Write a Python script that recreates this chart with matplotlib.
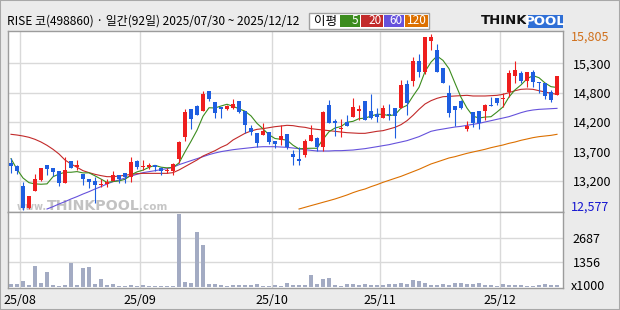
import matplotlib
matplotlib.use('Agg')
import matplotlib.pyplot as plt
from matplotlib.patches import Rectangle
import numpy as np

plt.rcParams['font.family'] = ['Noto Sans CJK KR', 'DejaVu Sans']

# ---- data (price in KRW, volume in x1000) ----
title = 'RISE 코(498860) · 일간(92일) 2025/07/30 ~ 2025/12/12'

opens = [13445, 13384, 13017, 12620, 12932, 13127, 13396, 13347, 13286, 13078,
         13469, 13372, 13237, 13152, 13103, 13029, 13054, 13115, 13225, 13249,
         13176, 13469, 13360, 13360, 13396, 13347, 13286, 13298, 13518, 13910,
         14423, 14484, 14386, 14753, 14558, 14472, 14435, 14448, 14570, 14399,
         14081, 13995, 13958, 14007, 13836, 13861, 13971, 13604, 13518, 13592,
         13849, 13897, 13738, 14496, 14203, 14056, 14191, 14289, 14399, 14570,
         14386, 14337, 14264, 14337, 14448, 14448, 14888, 14949, 15303, 15108,
         15682, 15511, 15181, 14717, 14484, 14570, 14056, 14374, 14386, 14386,
         14509, 14631, 14606, 14741, 15034, 15096, 14937, 15108, 14924, 14912,
         14741, 14692]
highs = [13537, 13408, 13090, 12834, 13237, 13347, 13396, 13347, 13286, 13555,
         13469, 13494, 13237, 13152, 13188, 13152, 13152, 13286, 13225, 13249,
         13555, 13494, 13494, 13445, 13396, 13360, 13347, 13445, 13849, 14435,
         14423, 14496, 14753, 14753, 14558, 14472, 14509, 14606, 14570, 14399,
         14142, 13995, 14166, 14007, 13836, 14142, 13971, 13677, 13726, 13885,
         14130, 13910, 14399, 14594, 14240, 14240, 14325, 14631, 14496, 14570,
         14704, 14448, 14509, 14521, 14448, 14961, 14961, 15389, 15438, 15744,
         15805, 15621, 15181, 14875, 14484, 14594, 14215, 14374, 14386, 14521,
         14643, 14631, 14717, 15144, 15303, 15120, 15108, 15144, 14924, 14912,
         14778, 15034]
lows = [13262, 13237, 12577, 12590, 12932, 13115, 13225, 13200, 13017, 13078,
        13347, 13311, 13042, 12980, 12711, 13005, 12993, 13103, 13066, 13078,
        13090, 13335, 13311, 13335, 13286, 13213, 13249, 13225, 13433, 13849,
        14069, 14313, 14386, 14570, 14264, 14264, 14411, 14423, 14362, 13995,
        13946, 13738, 13958, 13787, 13714, 13775, 13702, 13408, 13408, 13555,
        13849, 13665, 13653, 14179, 13934, 13910, 14118, 14289, 14228, 14228,
        14252, 14191, 14264, 14228, 13897, 14448, 14325, 14851, 15010, 15071,
        15511, 15108, 14900, 14276, 14117, 14423, 14032, 14105, 14069, 14228,
        14484, 14496, 14460, 14655, 14912, 14912, 14839, 14839, 14729, 14619,
        14558, 14692]
closes = [13384, 13298, 12620, 12834, 13145, 13347, 13335, 13274, 13078, 13311,
          13347, 13396, 13152, 13090, 13029, 13054, 13090, 13225, 13152, 13176,
          13457, 13372, 13384, 13408, 13360, 13286, 13311, 13421, 13824, 14374,
          14252, 14325, 14704, 14607, 14350, 14435, 14484, 14521, 14374, 14130,
          14007, 13800, 14020, 13824, 13787, 13934, 13726, 13555, 13482, 13836,
          13946, 13726, 14374, 14179, 14179, 14081, 14118, 14460, 14423, 14228,
          14264, 14289, 14448, 14313, 14301, 14875, 14545, 15303, 15108, 15744,
          15744, 15108, 14900, 14350, 14411, 14448, 14117, 14166, 14179, 14496,
          14484, 14545, 14631, 15096, 15144, 14937, 15108, 14924, 14900, 14668,
          14594, 15034]
volume = [150, 150, 315, 95, 1140, 205, 810, 95, 55, 95,
          1320, 95, 1030, 1085, 150, 425, 95, 150, 40, 40,
          95, 40, 95, 40, 40, 40, 40, 40, 4000, 260,
          205, 3010, 2290, 150, 150, 95, 55, 95, 95, 95,
          95, 150, 40, 40, 95, 40, 205, 95, 95, 95,
          645, 150, 405, 480, 95, 40, 150, 150, 95, 150,
          95, 95, 95, 150, 150, 205, 150, 370, 315, 205,
          95, 95, 150, 95, 205, 205, 150, 150, 205, 95,
          95, 40, 150, 95, 95, 95, 40, 40, 95, 150,
          95, 95]

nan = np.nan
ma5 = [13518, 13323, 13164, 13078, 13056, 13049, 13056, 13187, 13236, 13269,
       13269, 13281, 13257, 13259, 13203, 13144, 13083, 13098, 13110, 13139,
       13220, 13276, 13308, 13359, 13396, 13362, 13350, 13357, 13440, 13643,
       13836, 14039, 14296, 14452, 14448, 14484, 14516, 14479, 14433, 14389,
       14303, 14166, 14066, 13956, 13888, 13873, 13858, 13765, 13697, 13707,
       13709, 13709, 13873, 14012, 14081, 14108, 14186, 14203, 14252, 14262,
       14299, 14333, 14330, 14308, 14323, 14445, 14496, 14667, 14826, 15115,
       15289, 15401, 15321, 15169, 14903, 14643, 14445, 14298, 14264, 14281,
       14288, 14374, 14467, 14650, 14780, 14871, 14983, 15042, 15003, 14907,
       14839, 14824]
ma20 = [13965, 13952, 13934, 13910, 13873, 13824, 13763, 13690, 13604, 13494,
        13421, 13360, 13298, 13262, 13231, 13207, 13188, 13188, 13200, 13213,
        13231, 13243, 13249, 13249, 13249, 13249, 13249, 13262, 13311, 13372,
        13433, 13494, 13567, 13616, 13665, 13726, 13775, 13861, 13922, 13983,
        14026, 14056, 14069, 14087, 14105, 14117, 14130, 14124, 14105, 14093,
        14069, 14056, 14044, 14032, 14020, 14007, 13995, 13989, 13983, 13983,
        14001, 14020, 14032, 14062, 14093, 14142, 14215, 14313, 14423, 14521,
        14582, 14625, 14655, 14661, 14668, 14674, 14680, 14668, 14668, 14668,
        14674, 14680, 14698, 14729, 14765, 14790, 14796, 14790, 14765, 14741,
        14717, 14698]
ma60 = [nan, nan, nan, nan, nan, nan, 12595, 12638, 12687, 12730,
        12779, 12822, 12870, 12913, 12962, 13005, 13054, 13097, 13127, 13164,
        13200, 13231, 13262, 13280, 13298, 13317, 13335, 13360, 13408, 13445,
        13482, 13518, 13555, 13592, 13622, 13647, 13665, 13683, 13696, 13708,
        13720, 13732, 13738, 13738, 13738, 13732, 13726, 13714, 13702, 13683,
        13671, 13659, 13659, 13659, 13665, 13665, 13671, 13677, 13690, 13702,
        13720, 13738, 13757, 13775, 13800, 13824, 13849, 13885, 13922, 13971,
        14020, 14044, 14062, 14081, 14099, 14111, 14130, 14148, 14166, 14191,
        14215, 14240, 14264, 14289, 14325, 14362, 14392, 14411, 14423, 14429,
        14435, 14441]
ma120 = [nan] * 48 + [
        12595, 12626, 12657, 12687, 12718, 12748, 12779, 12815, 12852, 12895,
        12932, 12962, 13005, 13042, 13084, 13121, 13158, 13194, 13237, 13280,
        13323, 13372, 13421, 13457, 13494, 13531, 13555, 13586, 13616, 13641,
        13665, 13690, 13720, 13745, 13769, 13800, 13824, 13855, 13879, 13904,
        13922, 13934, 13946, 13965]

month_start = [2, 22, 44, 62, 82]
month_labels = ['25/08', '25/09', '25/10', '25/11', '25/12']
price_grid = [13115, 13653, 14191, 14729, 15267]
price_labels = ['13,200', '13,700', '14,200', '14,800', '15,300']
price_max, price_min = 15805, 12577
vol_grid = [1356, 2687]

RED = '#ee1e1e'
BLUE = '#1e5ee0'
MA_COLORS = ['#3c8c1e', '#c22a2a', '#6652dc', '#dc7000']
GRID = '#d9d9d9'
FRAME = '#9c9c9c'

# ---- layout in pixels ----
W, H = 620, 310
def fx(px):
    return px / W
def fy(py):
    return 1 - py / H

fig = plt.figure(figsize=(6.2, 3.1), dpi=100, facecolor='#ebebeb')
ax = fig.add_axes([fx(8), fy(212), fx(563) - fx(8), fy(31) - fy(212)])
vax = fig.add_axes([fx(8), fy(288), fx(563) - fx(8), fy(212) - fy(288)], sharex=ax)
ax.set_facecolor('white')
vax.set_facecolor('white')

x = np.arange(len(closes))
o = np.array(opens, float)
c = np.array(closes, float)
cols = np.where(c >= o, RED, BLUE)

# watermark (behind the candles)
ax.text(fx(46.5), fy(210), 'www.', color='#c6c6c6', fontsize=7, family='DejaVu Sans',
        fontweight='bold', va='baseline', ha='right', transform=fig.transFigure, zorder=1)
ax.text(fx(46.5), fy(210), 'THINKPOOL', color='#c2c2c2', fontsize=10.2, family='DejaVu Sans',
        fontweight='bold', va='baseline', transform=fig.transFigure, zorder=1)
ax.text(fx(139), fy(210), '.com', color='#c6c6c6', fontsize=7.5, family='DejaVu Sans',
        fontweight='bold', va='baseline', transform=fig.transFigure, zorder=1)

# candles
ax.vlines(x, lows, highs, colors=cols, lw=0.8, zorder=3)
ax.bar(x, np.maximum(np.abs(c - o), 20), bottom=np.minimum(o, c), width=0.68,
       color=cols, lw=0, zorder=4)

# moving averages
for ma, col in zip([ma120, ma60, ma20, ma5], MA_COLORS[::-1]):
    ax.plot(x, ma, color=col, lw=0.8, zorder=2)

ax.set_xlim(-0.5, 92)
ax.set_ylim(12540, 15860)
ax.set_yticks(price_grid)
ax.set_yticklabels(price_labels)
ax.yaxis.tick_right()
ax.tick_params(axis='y', length=0, pad=7, labelsize=9)
ax.tick_params(axis='x', length=0, labelbottom=False)
ax.grid(True, color=GRID, lw=1)
ax.set_axisbelow(True)
ax.text(1 + 8 / 555, price_max - 55, '15,805', transform=ax.get_yaxis_transform(),
        color='#d0701c', fontsize=9, va='center', ha='left')
ax.text(1 + 8 / 555, price_min + 55, '12,577', transform=ax.get_yaxis_transform(),
        color='#1616d0', fontsize=9, va='center', ha='left')

# volume
vax.bar(x, volume, width=0.82, color='#a3abc3', lw=0, zorder=3)
vax.set_ylim(-72, 4108)
vax.set_yticks(vol_grid)
vax.set_yticklabels([str(v) for v in vol_grid])
vax.yaxis.tick_right()
vax.tick_params(axis='y', length=0, pad=7, labelsize=9)
vax.set_xticks([m - 0.5 for m in month_start])
vax.set_xticklabels(month_labels)
vax.tick_params(axis='x', length=0, pad=4, labelsize=9)
vax.grid(True, color=GRID, lw=1)
vax.set_axisbelow(True)
vax.text(1 + 8 / 555, 0, 'x1000', transform=vax.get_yaxis_transform(),
         fontsize=9, va='center', ha='left')

for a in (ax, vax):
    for s in a.spines.values():
        s.set_color(FRAME)
        s.set_linewidth(1)

# header: title, MA legend, logo
fig.text(fx(7), fy(21), title, fontsize=8.6, va='center', ha='left')
fig.patches.append(Rectangle((fx(309), fy(29)), fx(120), 16 / H, transform=fig.transFigure,
                             facecolor='white', edgecolor='#a0a0a0', lw=1))
fig.text(fx(314), fy(21), '이평', fontsize=9, va='center', ha='left')
boxes = [(340, 360, '5'), (361, 383, '20'), (384, 404, '60'), (405, 428, '120')]
for (x0, x1, lab), col in zip(boxes, MA_COLORS):
    fig.patches.append(Rectangle((fx(x0), fy(27.3)), fx(x1 - x0), 12.6 / H,
                                 transform=fig.transFigure, facecolor=col, edgecolor='none'))
    fig.text(fx(x1 - 1.5), fy(21), lab, color='white', fontsize=8.5, va='center', ha='right')

fig.text(fx(481), fy(21), 'THINK', fontsize=9.5, fontweight='bold', family='DejaVu Sans',
         va='center', ha='left', color='#111111')
fig.patches.append(Rectangle((fx(528), fy(28)), fx(35), 13 / H, transform=fig.transFigure,
                             facecolor='#2f6fd6', edgecolor='none'))
fig.text(fx(545.5), fy(21.3), 'POOL', fontsize=9.5, fontweight='bold', family='DejaVu Sans',
         va='center', ha='center', color='white')

fig.patches.append(Rectangle((0, 0), 1, 1, transform=fig.transFigure, facecolor='none',
                             edgecolor='#a8a8a8', lw=1.5))

fig.savefig('out.png', dpi=100, facecolor=fig.get_facecolor())
